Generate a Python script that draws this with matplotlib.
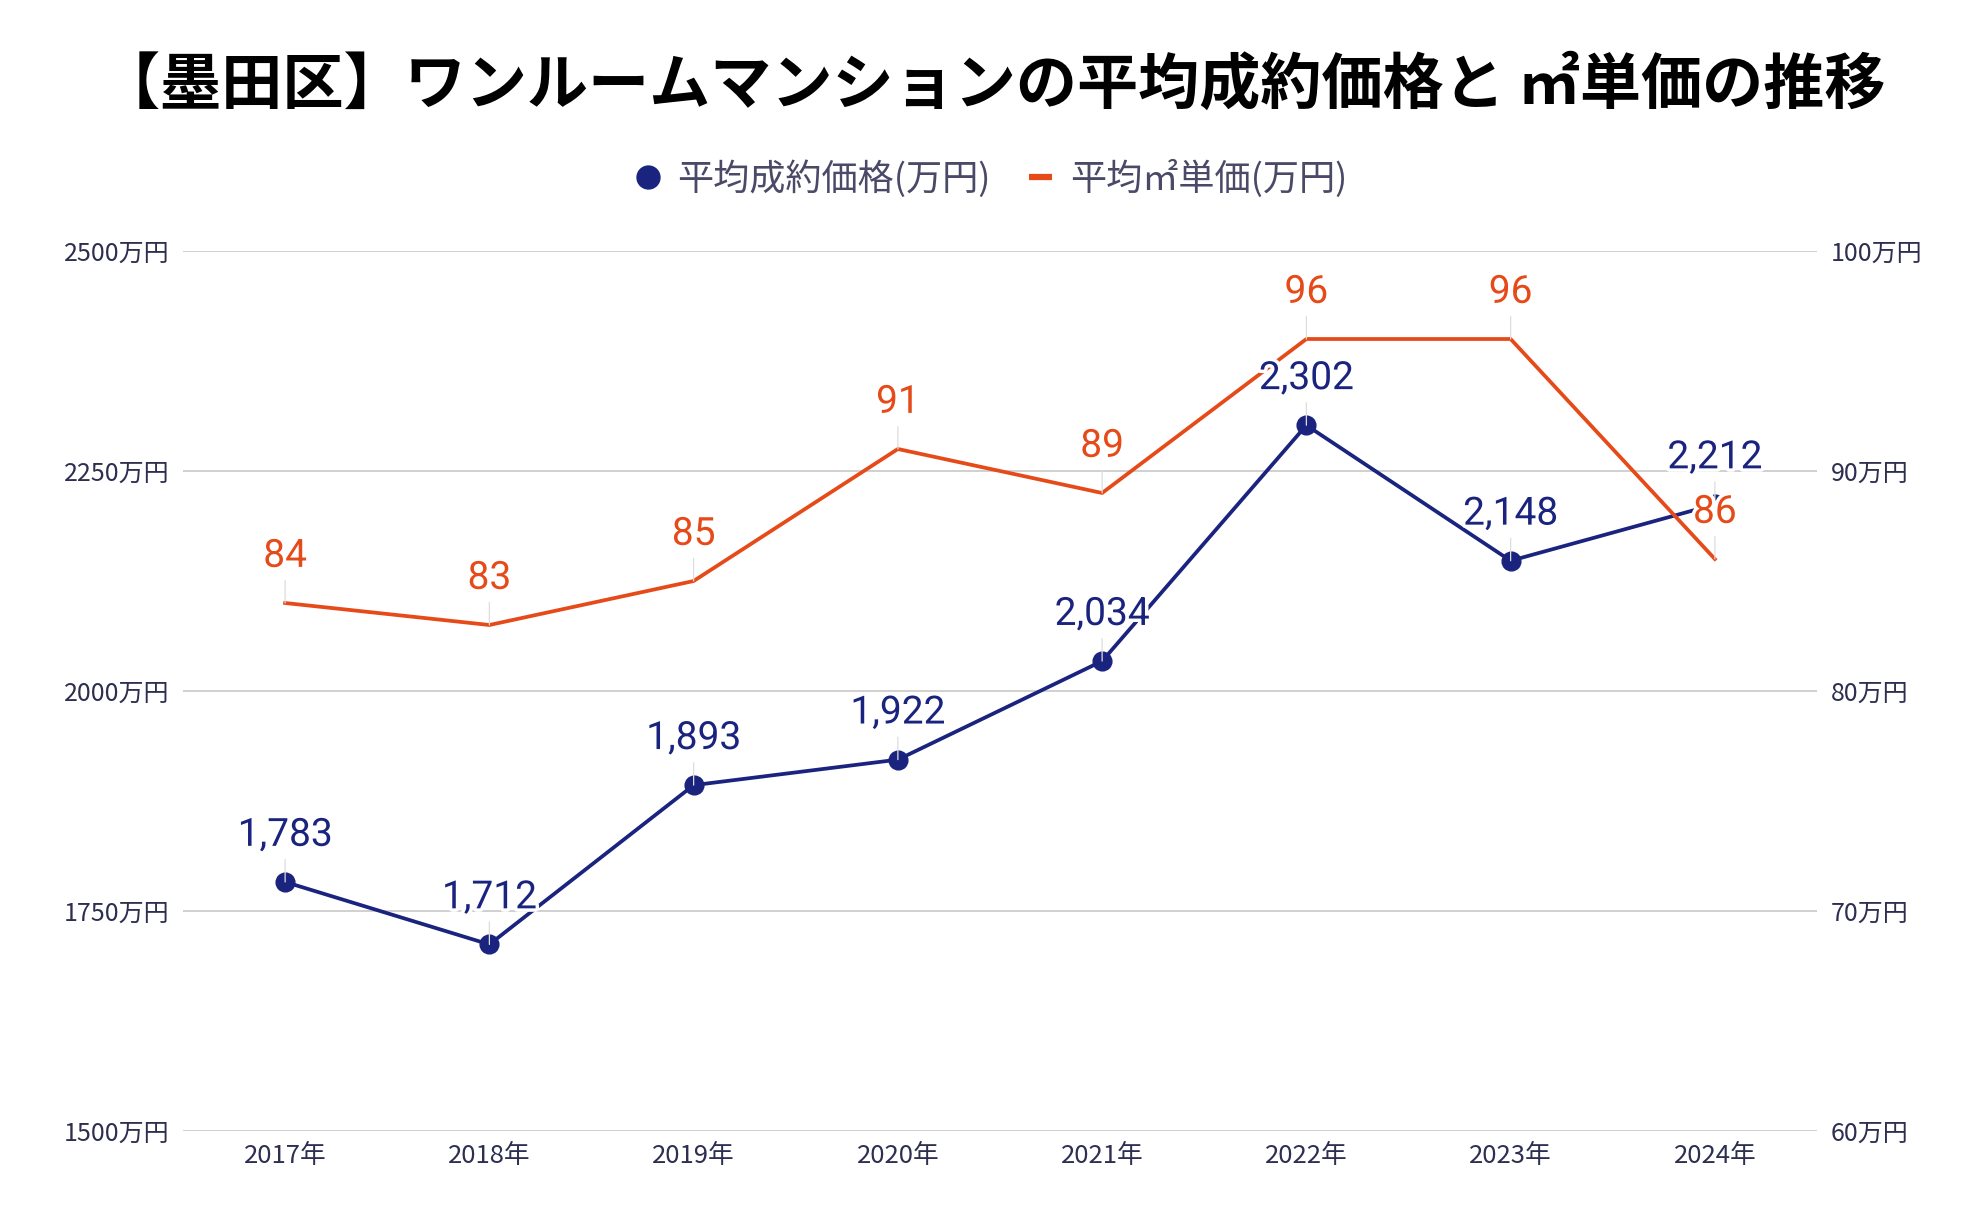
import matplotlib
matplotlib.use("Agg")
import matplotlib.pyplot as plt
from matplotlib.lines import Line2D
import matplotlib.patheffects as pe

years = ["2017年", "2018年", "2019年", "2020年", "2021年", "2022年", "2023年", "2024年"]
avg_price = [1783, 1712, 1893, 1922, 2034, 2302, 2148, 2212]
sqm_price = [84, 83, 85, 91, 89, 96, 96, 86]
left_ticks = [1500, 1750, 2000, 2250, 2500]
left_labels = ["1500万円", "1750万円", "2000万円", "2250万円", "2500万円"]
right_ticks = [60, 70, 80, 90, 100]
right_labels = ["60万円", "70万円", "80万円", "90万円", "100万円"]

title = "【墨田区】ワンルームマンションの平均成約価格と ㎡単価の推移"
legend_labels = ["平均成約価格(万円)", "平均㎡単価(万円)"]

BLUE = "#1a237e"
ORANGE = "#e64a19"
TICK_C = "#2e2f50"
LEG_C = "#4a4a68"
GRID_C = "#c8c8c8"
CJK = ["Noto Sans CJK JP", "DejaVu Sans"]
LBL = ["Roboto", "DejaVu Sans"]

W, H = 1984, 1228
fig = plt.figure(figsize=(W / 100, H / 100), dpi=100)
ax = fig.add_axes([183 / W, 1 - 1131 / H, 1634 / W, 880 / H])
ax2 = ax.twinx()

x = list(range(len(years)))

ax.set_xlim(-0.5, len(years) - 0.5)
ax.set_ylim(1500, 2500)
ax2.set_ylim(60, 100)

ax.set_yticks(left_ticks)
ax.set_yticklabels(left_labels, family=CJK, fontsize=18, color=TICK_C)
ax2.set_yticks(right_ticks)
ax2.set_yticklabels(right_labels, family=CJK, fontsize=18, color=TICK_C)
ax.set_xticks(x)
ax.set_xticklabels(years, family=CJK, fontsize=18.5, color=TICK_C)

ax.tick_params(axis="y", length=0, pad=10)
ax2.tick_params(axis="y", length=0, pad=10)
ax.tick_params(axis="x", length=0, pad=8.5)

for a in (ax, ax2):
    for s in a.spines.values():
        s.set_visible(False)
ax.grid(axis="y", color=GRID_C, lw=1.2)
ax.set_axisbelow(True)

ax.plot(x, avg_price, color=BLUE, lw=2.7, marker="o", ms=13.5, zorder=3,
        solid_capstyle="round")
ax2.plot(x, sqm_price, color=ORANGE, lw=2.7, zorder=3)

halo = [pe.withStroke(linewidth=5, foreground="white")]
for xi, v in zip(x, avg_price):
    ax2.annotate(f"{v:,}", xy=(xi, v), xycoords=ax.transData,
                 xytext=(0, 26), textcoords="offset points",
                 ha="center", va="baseline", fontsize=28, family=LBL,
                 color=BLUE, path_effects=halo, zorder=5,
                 arrowprops=dict(arrowstyle="-", color="#dddddd", lw=0.9,
                                 shrinkA=2, shrinkB=0))
for xi, v in zip(x, sqm_price):
    ax2.annotate(f"{v}", xy=(xi, v), xycoords=ax2.transData,
                 xytext=(0, 26), textcoords="offset points",
                 ha="center", va="baseline", fontsize=28, family=LBL,
                 color=ORANGE, path_effects=halo, zorder=5,
                 arrowprops=dict(arrowstyle="-", color="#dddddd", lw=0.9,
                                 shrinkA=2, shrinkB=0))

fig.text(0.5, 1 - 86 / H, title, ha="center", va="center",
         family=CJK, fontsize=44, fontweight="bold", color="black")

handles = [
    Line2D([], [], color=BLUE, marker="o", ls="none", ms=16.5),
    Line2D([], [], color=ORANGE, lw=4.5, solid_capstyle="butt"),
]
leg = fig.legend(handles, legend_labels, loc="center", ncol=2,
                 bbox_to_anchor=(0.5, 1 - 179 / H), frameon=False,
                 handlelength=0.64, handletextpad=0.5, columnspacing=1.05,
                 prop={"family": CJK, "size": 26})
for t in leg.get_texts():
    t.set_color(LEG_C)

fig.savefig("out.png", dpi=100, facecolor="white")
